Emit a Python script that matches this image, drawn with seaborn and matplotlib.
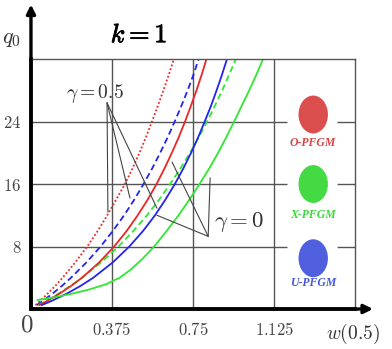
import numpy as np
import pandas as pd
import seaborn as sns
import matplotlib.pyplot as plt
import matplotlib.patheffects as pe
from matplotlib.patches import Ellipse

# curve data: q0 levels and w(0.5) values
y_levels = [0.5, 1, 2, 3, 4, 6, 8, 10, 12, 14, 16, 18, 20, 22, 24, 26, 28, 30, 32]
# gamma = 0.5 (dotted / dashed)
o_g05 = [0.021, 0.041, 0.078, 0.114, 0.146, 0.206, 0.26, 0.309, 0.353, 0.394,
         0.435, 0.47, 0.502, 0.532, 0.56, 0.587, 0.613, 0.638, 0.661]
u_g05 = [0.027, 0.053, 0.101, 0.145, 0.185, 0.258, 0.322, 0.379, 0.431, 0.478,
         0.521, 0.561, 0.598, 0.633, 0.665, 0.696, 0.725, 0.752, 0.776]
x_g05 = [0.035, 0.068, 0.129, 0.185, 0.236, 0.326, 0.405, 0.474, 0.537, 0.593,
         0.644, 0.692, 0.736, 0.777, 0.815, 0.851, 0.885, 0.917, 0.948]
# gamma = 0 (solid)
o_g0 = [0.038, 0.073, 0.134, 0.188, 0.236, 0.317, 0.385, 0.443, 0.494, 0.54,
        0.581, 0.618, 0.652, 0.684, 0.713, 0.74, 0.766, 0.79, 0.812]
u_g0 = [0.049, 0.093, 0.168, 0.232, 0.288, 0.38, 0.455, 0.519, 0.574, 0.622,
        0.666, 0.705, 0.741, 0.774, 0.804, 0.833, 0.859, 0.884, 0.907]
x_g0_y = [1.15, 1.45, 1.9, 2.5, 3.2, 4.0, 5.0, 6.4, 8, 10, 12, 14, 16, 18, 20, 22, 24, 26, 28, 30, 32]
x_g0 = [0.03, 0.1, 0.18, 0.27, 0.35, 0.41, 0.46, 0.515, 0.57, 0.628, 0.683, 0.733, 0.78,
        0.825, 0.866, 0.904, 0.94, 0.975, 1.01, 1.043, 1.074]

models = ["O-PFGM", "X-PFGM", "U-PFGM"]
model_colors = ["#ec2626", "#2fe82f", "#2424ee"]
marker_colors = ["#d84444", "#3ad83a", "#4656dc"]
marker_y = [24.9, 16.0, 6.5]
label_y = [21.3, 12.0, 3.3]

xticks = [0.375, 0.75, 1.125]
xtick_labels = ["$0.375$", "$0.75$", "$1.125$"]
yticks = [8, 16, 24]
ytick_labels = ["$8$", "$16$", "$24$"]

sns.set_theme(style="white")
plt.rcParams['mathtext.fontset'] = 'cm'
plt.rcParams['font.family'] = ['DejaVu Serif']

fig = plt.figure(figsize=(3.92, 3.49), dpi=100)
ax = fig.add_axes([0.079, 0.1146, 0.827, 0.7163])

curves = [
    (o_g05, y_levels, model_colors[0], (0, (1, 1.2))),
    (u_g05, y_levels, model_colors[2], (0, (3.5, 2))),
    (x_g05, y_levels, model_colors[1], (0, (3.5, 2))),
    (o_g0, y_levels, model_colors[0], '-'),
    (u_g0, y_levels, model_colors[2], '-'),
    (x_g0, x_g0_y, model_colors[1], '-'),
]
for xs, ys, c, ls in curves:
    df = pd.DataFrame({"w": xs, "q0": ys})
    sns.lineplot(data=df, x="w", y="q0", color=c, linestyle=ls, lw=1.3,
                 sort=False, estimator=None, ax=ax)

ax.set_xlim(0, 1.5)
ax.set_ylim(0, 32)

# grid, with gaps around the legend markers
grid_c = "#555555"
for yv in yticks:
    ax.hlines(yv, 0, 1.185, color=grid_c, lw=1.0, zorder=0)
    ax.hlines(yv, 1.417, 1.5, color=grid_c, lw=1.0, zorder=0)
for xv in xticks:
    ax.axvline(xv, color=grid_c, lw=1.0, zorder=0)

for s in ['top', 'right']:
    ax.spines[s].set_color(grid_c)
    ax.spines[s].set_linewidth(1.0)
for s in ['left', 'bottom']:
    ax.spines[s].set_color('black')
    ax.spines[s].set_linewidth(2.6)

ax.annotate('', xy=(0, 1.218), xytext=(0, 0), xycoords='axes fraction',
            arrowprops=dict(arrowstyle='-|>', lw=2.4, color='black', mutation_scale=13,
                            shrinkA=0, shrinkB=0))
ax.annotate('', xy=(1.055, 0), xytext=(0, 0), xycoords='axes fraction',
            arrowprops=dict(arrowstyle='-|>', lw=2.4, color='black', mutation_scale=13,
                            shrinkA=0, shrinkB=0))

ax.set_xticks(xticks)
ax.set_xticklabels(xtick_labels)
ax.set_yticks(yticks)
ax.set_yticklabels(ytick_labels)
ax.tick_params(axis='both', length=0, labelsize=12, labelcolor="#444444")
ax.tick_params(axis='x', pad=9)
ax.tick_params(axis='y', pad=7)
ax.set_xlabel("")
ax.set_ylabel("")

ax.text(-0.019, -2.1, "$0$", fontsize=18, color="#444444", ha='center', va='center', clip_on=False)
ax.text(-0.088, 34.7, "$q_0$", fontsize=16, color="#333333", ha='center', va='center', clip_on=False)
ax.text(1.49, -3.2, "$w(0.5)$", fontsize=14, color="#333333", ha='center', va='center', clip_on=False)
ax.text(0.5, 35.1, "$k=1$", fontsize=19, color="black", ha='center', va='center', clip_on=False,
        path_effects=[pe.withStroke(linewidth=0.6, foreground='black')])

# annotation lines
ann_c = "#444444"
v1 = (0.352, 26.4)
for ex, ey in [(0.356, 12.4), (0.458, 14.2), (0.583, 12.9)]:
    ax.plot([v1[0], ex], [v1[1], ey], color=ann_c, lw=0.8)
ax.text(0.296, 27.6, r"$\gamma=0.5$", fontsize=14, color="#333333", ha='center', va='center')
v2 = (0.82, 9.3)
for ex, ey in [(0.653, 18.8), (0.583, 12.0), (0.829, 16.8)]:
    ax.plot([v2[0], ex], [v2[1], ey], color=ann_c, lw=0.8)
ax.text(0.962, 11.1, r"$\gamma=0$", fontsize=16.5, color="#333333", ha='center', va='center')

# legend markers
for name, mc, tc, my, ly in zip(models, marker_colors, model_colors, marker_y, label_y):
    ax.add_patch(Ellipse((1.306, my), 0.136, 4.85, facecolor=mc, edgecolor='none', alpha=0.95))
    ax.text(1.306, ly, name, fontsize=8.5, color=mc, ha='center', va='center',
            family='Liberation Serif', style='italic', weight='bold')

fig.savefig("out.png", dpi=100)
